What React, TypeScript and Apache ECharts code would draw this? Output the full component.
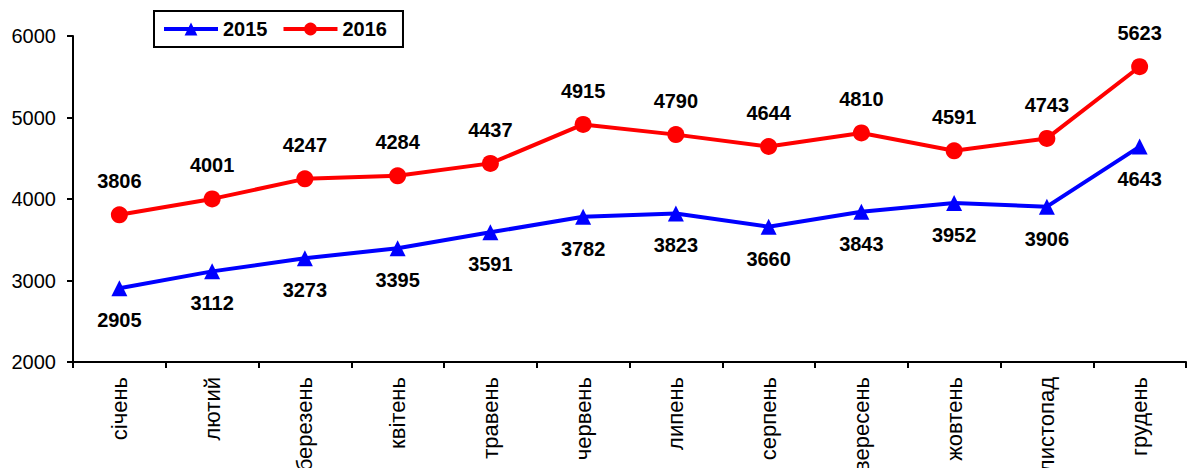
import React, { useEffect, useRef } from "react";
import * as echarts from "echarts";

const months = ["січень", "лютий", "березень", "квітень", "травень", "червень", "липень", "серпень", "вересень", "жовтень", "листопад", "грудень"];
const values2015 = [2905, 3112, 3273, 3395, 3591, 3782, 3823, 3660, 3843, 3952, 3906, 4643];
const values2016 = [3806, 4001, 4247, 4284, 4437, 4915, 4790, 4644, 4810, 4591, 4743, 5623];

export default function App() {
  const ref = useRef<HTMLDivElement>(null);
  useEffect(() => {
    document.body.style.margin = "0";
    const chart = echarts.init(ref.current!, null, { renderer: "svg" });
    const font = "Liberation Sans, Arial, sans-serif";
    chart.setOption({
      animation: false,
      textStyle: { fontFamily: font },
      legend: {
        left: 154,
        top: 11,
        itemWidth: 54,
        itemHeight: 16,
        itemGap: 14,
        padding: [8, 16, 8, 8],
        borderColor: "#000",
        borderWidth: 2,
        lineStyle: { width: 4 },
        textStyle: { fontSize: 20, fontWeight: "bold", color: "#000", fontFamily: font },
        data: ["2015", "2016"],
      },
      grid: { left: 73, right: 1, top: 36, bottom: 106, containLabel: false, outerBoundsMode: "none" },
      xAxis: {
        type: "category",
        data: months,
        boundaryGap: true,
        axisLine: { lineStyle: { color: "#000", width: 2 } },
        axisTick: { show: true, length: 6, lineStyle: { color: "#000", width: 2 }, alignWithLabel: false },
        axisLabel: { rotate: 90, fontSize: 22, color: "#000", margin: 15, fontFamily: font, interval: 0 },
      },
      yAxis: {
        type: "value",
        min: 2000,
        max: 6000,
        interval: 1000,
        axisLine: { show: true, lineStyle: { color: "#000", width: 2 } },
        axisTick: { show: true, length: 6, lineStyle: { color: "#000", width: 2 } },
        axisLabel: { fontSize: 20, color: "#000", margin: 17, fontFamily: font, formatter: (v: number) => String(v) },
        splitLine: { show: false },
      },
      series: [
        {
          name: "2015",
          type: "line",
          data: values2015,
          color: "#0000ff",
          lineStyle: { width: 4, color: "#0000ff" },
          symbol: "triangle",
          symbolSize: 16,
          itemStyle: { color: "#0000ff" },
          label: { show: true, position: "bottom", distance: 14, fontSize: 20, fontWeight: "bold", color: "#000", fontFamily: font },
        },
        {
          name: "2016",
          type: "line",
          data: values2016,
          color: "#ff0000",
          lineStyle: { width: 4, color: "#ff0000" },
          symbol: "circle",
          symbolSize: 17,
          itemStyle: { color: "#ff0000" },
          label: { show: true, position: "top", distance: 15, fontSize: 20, fontWeight: "bold", color: "#000", fontFamily: font },
        },
      ],
    });
    return () => chart.dispose();
  }, []);
  return <div ref={ref} style={{ width: 1187, height: 468 }} />;
}
